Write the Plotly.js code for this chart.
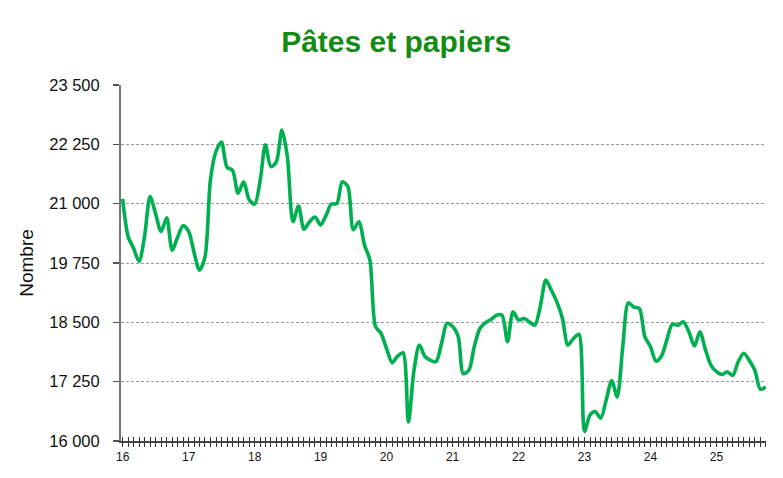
<!DOCTYPE html>
<html>
<head>
<meta charset="utf-8">
<script src="https://cdn.plot.ly/plotly-3.0.1.min.js"></script>
<style>html,body{margin:0;padding:0;background:#fff;}#chart{width:783px;height:478px;}</style>
</head>
<body>
<div id="chart"></div>
<script>
// Monthly categories Jan 2016 .. Oct 2025
const startYear = 2016, endYear = 2025, endMonth = 10;
const months = [];
for (let y = startYear; y <= endYear; y++) {
  for (let m = 1; m <= 12; m++) {
    if (y === endYear && m > endMonth) break;
    months.push(y + '-' + String(m).padStart(2, '0') + '-01');
  }
}
// Tick labels: two-digit year on January, blank otherwise
const tickLabels = months.map(d => d.slice(5, 7) === '01' ? d.slice(2, 4) : '');

const values = [
  21100, 20300, 20065, 19785, 20300, 21150, 20795, 20410, 20700, 20020, 20300, 20540,
  20410, 19950, 19600, 19880, 21500, 22100, 22300, 21770, 21700, 21220, 21460, 21090,
  20990, 21500, 22240, 21780, 21880, 22550, 21990, 20620, 20950, 20460, 20620, 20720,
  20550, 20760, 20990, 21000, 21460, 21360, 20450, 20620, 20130, 19810, 18410, 18270,
  17950, 17650, 17780, 17860, 16400, 17490, 18020, 17780, 17700, 17670, 18060, 18480,
  18410, 18200, 17420, 17490, 17990, 18370, 18490, 18560, 18650, 18650, 18090, 18720,
  18550, 18580, 18510, 18440, 18830, 19390, 19180, 18930, 18580, 18020, 18160, 18250,
  16200, 16550, 16620, 16480, 16860, 17270, 16930, 17990, 18910, 18820, 18790, 18200,
  17990, 17680, 17780, 18130, 18460, 18440, 18510, 18300, 18000, 18300, 17920, 17600,
  17460, 17400, 17460, 17380, 17670, 17850, 17700, 17490, 17090, 17140
];

const yTicks = [16000, 17250, 18500, 19750, 21000, 22250, 23500];
const yTickLabels = ['16 000', '17 250', '18 500', '19 750', '21 000', '22 250', '23 500'];

const xRange = ['2015-12-23', '2025-10-02'];

const traces = [
  {
    x: months, y: values, type: 'scatter', mode: 'lines',
    line: {color: '#00B050', width: 3.6, shape: 'spline', smoothing: 0.8},
    hoverinfo: 'x+y'
  },
  {
    x: months, y: values, type: 'scatter', mode: 'lines', xaxis: 'x2',
    line: {color: 'rgba(0,0,0,0)', width: 0}, hoverinfo: 'skip', showlegend: false
  }
];

const tickFont = {family: 'Liberation Sans, Arial, sans-serif', size: 16.5, color: '#111'};

const layout = {
  width: 783, height: 478,
  margin: {l: 121, r: 17, t: 85, b: 37},
  paper_bgcolor: '#fff', plot_bgcolor: '#fff',
  showlegend: false,
  title: {
    text: 'Pâtes et papiers',
    font: {family: 'Liberation Sans, Arial, sans-serif', size: 30, color: '#128c12', weight: 'bold'},
    xref: 'container', x: 0.506, xanchor: 'center',
    yref: 'container', y: 1 - 41 / 478, yanchor: 'middle'
  },
  xaxis: {
    type: 'date', range: xRange,
    tickmode: 'array', tickvals: months, ticktext: tickLabels,
    ticks: 'outside', ticklen: 4, tickwidth: 1, tickcolor: '#333',
    tickfont: {family: 'Liberation Sans, Arial, sans-serif', size: 12, color: '#111'},
    showgrid: false, zeroline: false,
    showline: true, linecolor: '#444', linewidth: 1.5,
    fixedrange: true
  },
  xaxis2: {
    type: 'date', range: xRange, overlaying: 'x', anchor: 'y', side: 'bottom',
    tickmode: 'array', tickvals: months, ticktext: months.map(() => ''),
    ticks: 'inside', ticklen: 4, tickwidth: 1, tickcolor: '#333',
    showticklabels: false, showgrid: false, zeroline: false, showline: false
  },
  yaxis: {
    range: [16000, 23500],
    tickmode: 'array', tickvals: yTicks, ticktext: yTickLabels,
    ticks: 'outside', ticklen: 6, tickwidth: 1.2, tickcolor: '#555',
    ticklabelstandoff: 10,
    tickfont: tickFont,
    showgrid: true, gridcolor: '#9a9a9a', gridwidth: 1, griddash: '3px,2px',
    zeroline: false,
    showline: true, linecolor: '#777', linewidth: 2,
    title: {text: 'Nombre', font: {family: 'Liberation Sans Narrow, Liberation Sans, Arial, sans-serif', size: 19, color: '#111'}, standoff: 11},
    automargin: false,
    fixedrange: true
  }
};

Plotly.newPlot('chart', traces, layout, {displayModeBar: false, staticPlot: true});
</script>
</body>
</html>
